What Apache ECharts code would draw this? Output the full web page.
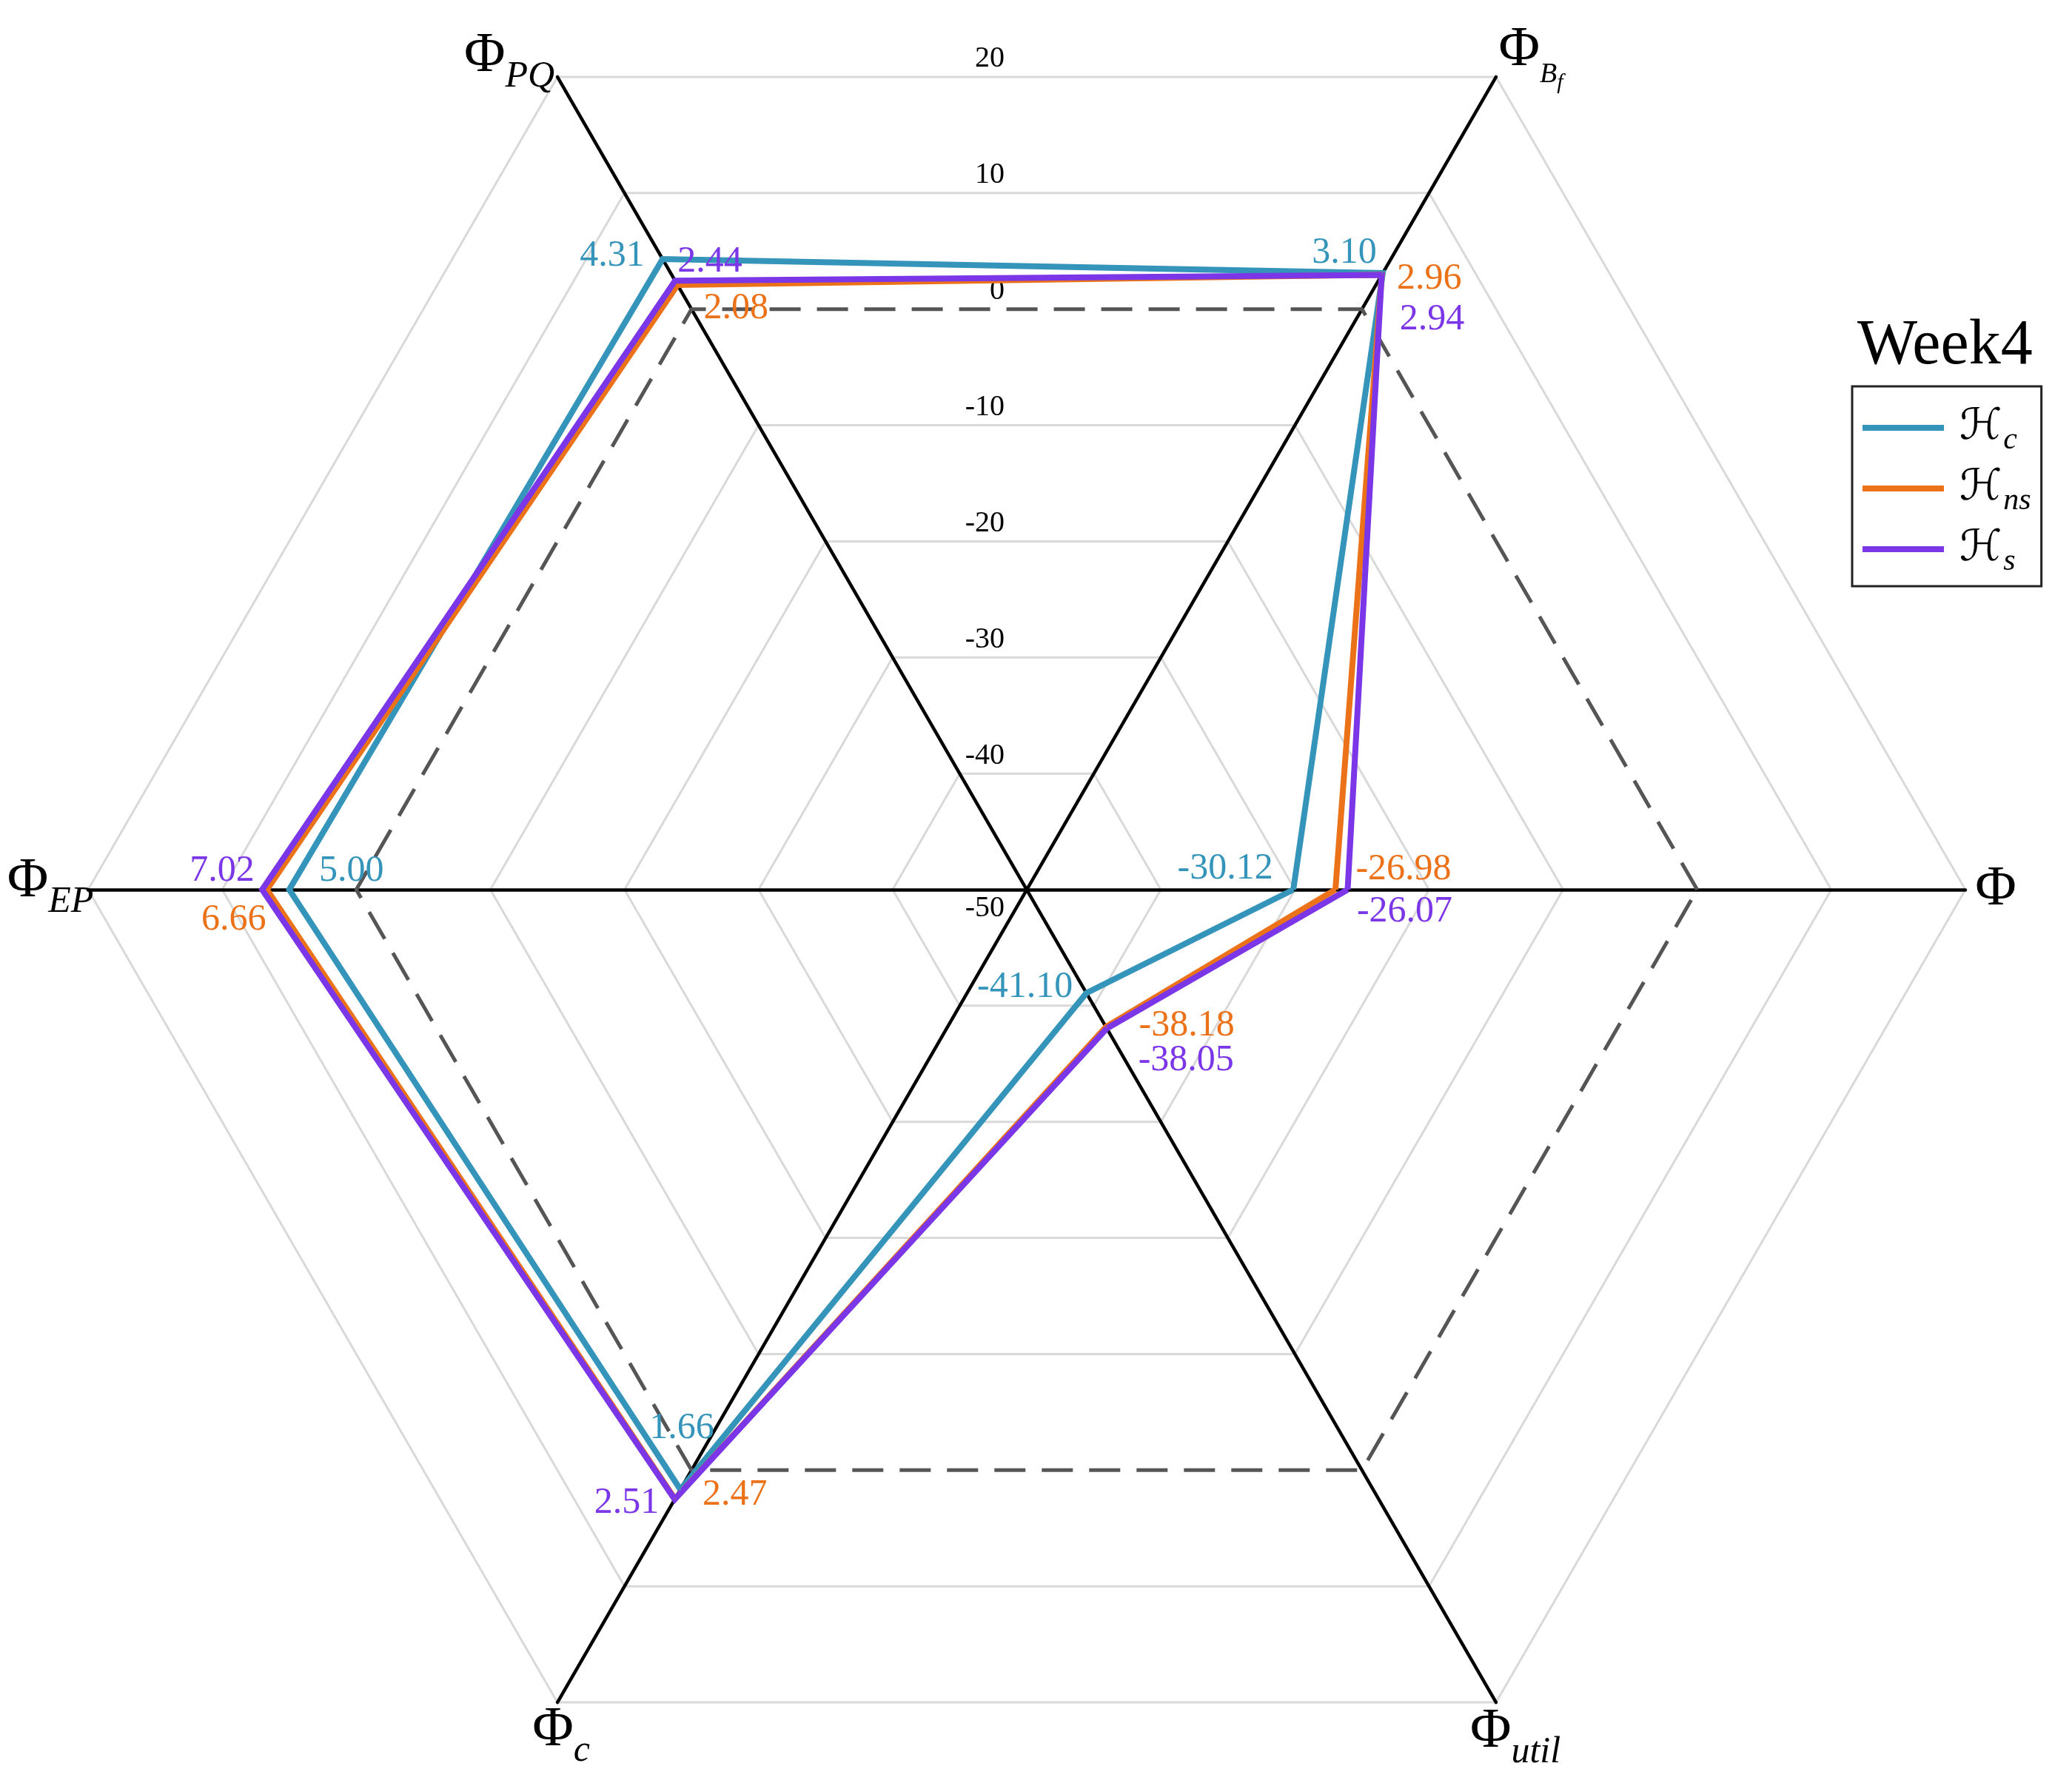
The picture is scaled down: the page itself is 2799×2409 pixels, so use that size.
<!DOCTYPE html>
<html>
<head>
<meta charset="utf-8">
<script src="https://cdn.jsdelivr.net/npm/echarts@6/dist/echarts.min.js"></script>
<style>
  html, body { margin: 0; padding: 0; background: #fff; }
  #chart { width: 2799px; height: 2409px; }
</style>
</head>
<body>
<div id="chart"></div>
<script>
// axes go counter-clockwise, starting at the right
var axisNames = ['Φ', 'Φ_B_f', 'Φ_PQ', 'Φ_EP', 'Φ_c', 'Φ_util'];
var tickValues = [-50, -40, -30, -20, -10, 0, 10, 20];
var seriesNames = ['ℋ_c', 'ℋ_ns', 'ℋ_s'];
var hc = [-30.12, 3.10, 4.31, 5.00, 1.66, -41.10];
var hns = [-26.98, 2.96, 2.08, 6.66, 2.47, -38.18];
var hs = [-26.07, 2.94, 2.44, 7.02, 2.51, -38.05];
var zeroRef = [0, 0, 0, 0, 0, 0];

// styling
var colors = ['#3594b9', '#ec7219', '#7b36e8'];
var serif = "'Liberation Serif', 'DejaVu Serif', serif";
var mathH = "'DejaVu Serif', 'DejaVu Sans', serif";
// where each value label sits relative to its point (px)
var labelShift = [
  [[-92, -28], [-52, -27], [-68, -4], [84, -25], [2, -83], [-83, -8]],
  [[92, -27], [64, 6], [79, 32], [-45, 41], [81, -5], [109, -2]],
  [[77, 30], [68, 60], [47, -25], [-54, -25], [-65, 5], [107, 43]]
];
// where each axis name sits relative to its axis end (px)
var nameShift = [[41, 0], [47, -36], [-65, -28], [-51, -11], [5, 38], [26, 40]];

var cx = 1387, cy = 1202, R = 1268;

function pad(dx, dy) {
  return [dy > 0 ? 2 * dy : 0, dx < 0 ? -2 * dx : 0, dy < 0 ? -2 * dy : 0, dx > 0 ? 2 * dx : 0];
}

// axis names as rich text with subscripts
var nameRich = {};
var nameText = axisNames.map(function (n, i) {
  var parts = n.split('_');
  var dx = nameShift[i][0], dy = nameShift[i][1];
  var st = [
    { fontSize: 76, lineHeight: 80, down: 0, italic: false },
    { fontSize: parts.length > 2 ? 38 : 50, lineHeight: 40, down: parts.length > 2 ? 33 : 28, italic: true },
    { fontSize: 30, lineHeight: 30, down: 44, italic: true }
  ];
  var out = '';
  parts.forEach(function (p, k) {
    var s = st[k];
    var key = 'n' + i + '_' + k;
    nameRich[key] = {
      fontSize: s.fontSize,
      fontStyle: s.italic ? 'italic' : 'normal',
      fontFamily: serif,
      color: '#000',
      lineHeight: s.lineHeight,
      padding: [
        2 * s.down + (dy > 0 ? 2 * dy : 0),
        (k === parts.length - 1 && dx < 0) ? -2 * dx : 0,
        dy < 0 ? -2 * dy : 0,
        (k === 0 && dx > 0) ? 2 * dx : 0
      ]
    };
    out += '{' + key + '|' + p + '}';
  });
  return out;
});

function valueSeries(name, values, s) {
  var rich = {};
  labelShift[s].forEach(function (d, j) {
    rich['v' + j] = { padding: pad(d[0], d[1]), color: colors[s], fontSize: 50, fontFamily: serif };
  });
  return {
    name: name,
    type: 'radar',
    symbol: 'circle',
    symbolSize: 2,
    lineStyle: { color: colors[s], width: 8, join: 'miter' },
    itemStyle: { color: colors[s] },
    emphasis: { disabled: true },
    label: {
      show: true,
      position: 'inside',
      color: colors[s],
      fontSize: 50,
      fontFamily: serif,
      rich: rich,
      formatter: function (p) {
        var j = p.dimensionIndex != null ? p.dimensionIndex : values.indexOf(p.value);
        var v = Array.isArray(p.value) ? values[j] : p.value;
        return '{v' + j + '|' + Number(v).toFixed(2) + '}';
      }
    },
    data: [{ value: values, name: name }]
  };
}

var myChart = echarts.init(document.getElementById('chart'));
var ringColors = tickValues.map(function (t) { return t === 0 ? 'rgba(0,0,0,0)' : '#d9d9d9'; });

var option = {
  animation: false,
  backgroundColor: '#fff',
  title: {
    text: 'Week4',
    left: 2504,
    top: 420,
    textStyle: { fontFamily: serif, fontSize: 86, fontWeight: 'normal', color: '#000' }
  },
  legend: {
    orient: 'vertical',
    left: 2502,
    top: 522,
    padding: [18, 14, 12, 14],
    itemGap: 6,
    itemWidth: 110,
    itemHeight: 8,
    icon: 'rect',
    selectedMode: false,
    borderColor: '#222',
    borderWidth: 3,
    data: seriesNames,
    formatter: function (n) {
      var p = n.split('_');
      return '{H|' + p[0] + '}{s|' + p[1] + '}';
    },
    textStyle: {
      color: '#000',
      rich: {
        H: { fontSize: 58, fontFamily: mathH, lineHeight: 64, padding: [0, 0, 0, 16], color: '#000' },
        s: { fontSize: 42, fontStyle: 'italic', fontFamily: serif, lineHeight: 30, padding: [34, 0, 0, 2], color: '#000' }
      }
    }
  },
  radar: {
    center: [cx, cy],
    radius: R,
    startAngle: 0,
    shape: 'polygon',
    splitNumber: tickValues.length - 1,
    axisNameGap: 0,
    indicator: axisNames.map(function (n) {
      return { name: n, min: tickValues[0], max: tickValues[tickValues.length - 1] };
    }),
    axisName: {
      show: true,
      color: '#000',
      align: 'center',
      verticalAlign: 'middle',
      rich: nameRich,
      formatter: function (value) {
        return nameText[axisNames.indexOf(value)];
      }
    },
    axisLine: { show: true, lineStyle: { color: '#000', width: 4.5 } },
    axisTick: { show: false },
    axisLabel: { show: false },
    splitArea: { show: false },
    splitLine: { show: true, lineStyle: { color: ringColors, width: 3 } }
  },
  // only used for the tick labels running up the middle
  polar: { center: [cx, cy], radius: R * Math.sqrt(3) / 2 },
  angleAxis: { type: 'value', show: false, startAngle: 90, min: 0, max: 360 },
  radiusAxis: {
    type: 'value',
    min: tickValues[0],
    max: tickValues[tickValues.length - 1],
    interval: tickValues[1] - tickValues[0],
    axisLine: { show: false },
    axisTick: { show: false },
    splitLine: { show: false },
    splitArea: { show: false },
    axisLabel: {
      show: true,
      showMinLabel: true,
      showMaxLabel: true,
      margin: 0,
      align: 'right',
      verticalAlign: 'middle',
      color: '#000',
      fontSize: 40,
      fontFamily: serif,
      formatter: function (v) {
        return v === tickValues[0] ? '{lo|' + v + '}' : '{up|' + v + '}';
      },
      rich: {
        up: { padding: [0, 30, 48, 0], fontSize: 40, fontFamily: serif, color: '#000' },
        lo: { padding: [50, 30, 0, 0], fontSize: 40, fontFamily: serif, color: '#000' }
      }
    }
  },
  series: [
    {
      name: 'zero',
      type: 'radar',
      symbol: 'none',
      silent: true,
      lineStyle: { color: '#555', width: 5, type: [42, 22] },
      emphasis: { disabled: true },
      data: [{ value: zeroRef, name: 'zero' }]
    },
    valueSeries(seriesNames[0], hc, 0),
    valueSeries(seriesNames[1], hns, 1),
    valueSeries(seriesNames[2], hs, 2)
  ]
};

option && myChart.setOption(option);
</script>
</body>
</html>
